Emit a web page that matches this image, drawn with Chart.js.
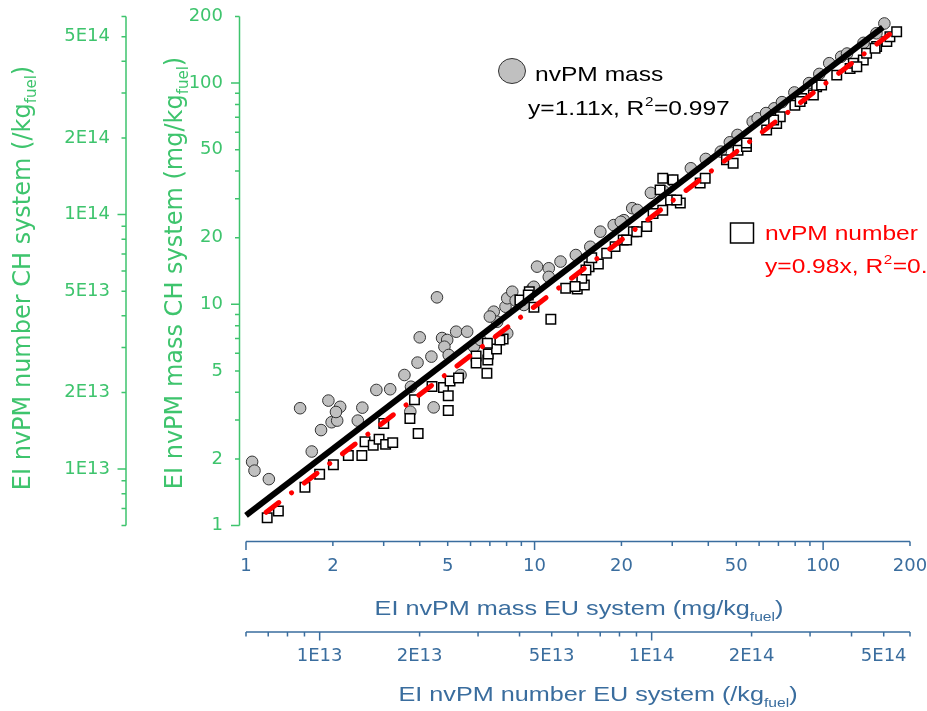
<!DOCTYPE html>
<html>
<head>
<meta charset="utf-8">
<script src="https://cdn.jsdelivr.net/npm/chart.js@4.4.1/dist/chart.umd.min.js"></script>
<style>
  html, body { margin: 0; padding: 0; background: #fff; }
  canvas { display: block; }
</style>
</head>
<body>
<canvas id="c" width="927" height="711"></canvas>
<script>
// nvPM mass, EU system (x) vs CH system (y), mg/kg_fuel
const massEU = [1.05, 1.07, 1.2, 1.54, 1.69, 1.82, 1.93, 1.98, 2.07, 2.12, 2.05, 2.44, 2.53, 2.83, 3.16,
  3.54, 3.73, 3.71, 3.93, 4.0, 4.39, 4.59, 4.47, 4.78, 4.98, 4.87, 5.04, 5.35, 5.84, 5.54, 6.16, 6.49,
  7.22, 7.42, 8.04, 7.93, 8.04, 8.37, 9.18, 10.2, 11.2, 11.2, 12.3, 9.82, 8.6, 7.0, 15.6, 16.9, 18.8,
  21.8, 22.7, 20.4, 34.8, 44.2, 50.5, 57.0, 59.3, 67.7, 79.5, 105, 115.5, 121, 163, 25.3, 30.1, 39.2,
  63.4, 89.4, 138, 153, 9.94, 19.9, 13.9, 28, 47.5, 72, 97];
const massCH = [1.94, 1.77, 1.62, 3.39, 2.16, 2.7, 3.67, 2.93, 2.98, 3.44, 3.26, 2.98, 3.41, 4.1, 4.13,
  4.79, 4.24, 3.27, 5.45, 7.09, 5.8, 10.75, 3.42, 7.04, 6.9, 6.43, 5.9, 7.52, 7.52, 4.79, 6.43, 6.9,
  9.26, 8.34, 7.39, 9.75, 10.65, 11.4, 9.93, 14.8, 14.55, 13.3, 15.6, 11.8, 10.4, 8.8, 18.2, 21.3, 22.8,
  27.2, 26.7, 24.0, 41.2, 49.0, 58.3, 66.9, 69.3, 76.9, 90.7, 123, 131.6, 136, 186, 31.9, 36.1, 45.4,
  73.2, 100, 152, 168, 12.0, 23.6, 16.7, 32.5, 54, 82, 110];

// nvPM number, EU system (x) vs CH system (y), /kg_fuel
const numberEU = [6.95e12, 7.51e12, 9.03e12, 1.00e13, 1.10e13, 1.22e13, 1.34e13, 1.37e13, 1.45e13, 1.51e13,
  1.58e13, 1.66e13, 1.56e13, 1.87e13, 1.98e13, 1.93e13, 2.18e13, 2.36e13, 2.44e13, 2.44e13, 2.47e13,
  2.62e13, 2.96e13, 2.96e13, 3.21e13, 3.22e13, 3.41e13, 3.19e13, 3.57e13, 3.20e13, 3.49e13, 4.01e13,
  4.28e13, 4.42e13, 4.97e13, 5.51e13, 5.97e13, 6.27e13, 6.16e13, 6.48e13, 6.91e13, 6.60e13, 7.32e13,
  7.76e13, 8.21e13, 8.81e13, 9.66e13, 9.02e13, 1.01e14, 1.08e14, 1.06e14, 1.08e14, 1.16e14, 1.14e14,
  1.22e14, 1.19e14, 1.40e14, 1.45e14, 1.68e14, 1.76e14, 1.82e14, 1.93e14, 2.22e14, 2.38e14, 2.44e14,
  2.33e14, 2.70e14, 2.83e14, 3.14e14, 3.25e14, 3.61e14, 3.96e14, 4.05e14, 4.34e14, 4.44e14, 4.76e14,
  5.11e14, 5.22e14, 5.47e14, 3.07e14, 2.80e14, 1.93e14, 4.15e14, 4.71e14, 4.25e13, 6.34e13, 5.88e13, 8.41e13];
const numberCH = [6.44e12, 6.84e12, 8.48e12, 9.53e12, 1.04e13, 1.13e13, 1.13e13, 1.28e13, 1.24e13, 1.31e13,
  1.25e13, 1.27e13, 1.51e13, 1.58e13, 1.38e13, 1.87e13, 2.11e13, 2.09e13, 1.94e13, 1.70e13, 2.22e13,
  2.28e13, 2.78e13, 2.61e13, 2.68e13, 2.83e13, 2.96e13, 2.38e13, 3.24e13, 3.12e13, 3.21e13, 4.62e13,
  4.97e13, 4.32e13, 3.88e13, 5.13e13, 5.10e13, 5.29e13, 5.62e13, 6.24e13, 6.39e13, 6.77e13, 7.04e13,
  7.48e13, 7.94e13, 8.56e13, 8.97e13, 8.56e13, 1.01e14, 1.04e14, 1.25e14, 1.39e14, 1.37e14, 1.14e14,
  1.11e14, 1.14e14, 1.33e14, 1.39e14, 1.64e14, 1.59e14, 1.79e14, 1.85e14, 2.15e14, 2.28e14, 2.42e14,
  2.35e14, 2.69e14, 2.86e14, 3.18e14, 3.23e14, 3.53e14, 3.75e14, 3.93e14, 4.05e14, 4.30e14, 4.57e14,
  4.78e14, 5.00e14, 5.23e14, 2.95e14, 2.78e14, 1.91e14, 3.81e14, 4.50e14, 4.83e13, 6.05e13, 5.21e13, 7.94e13];

// fit lines (end points)
const massFitX = [1, 161];
const massFitY = [1.11, 178.7];
const numberFitX = [6.9e12, 5.6e14];
const numberFitY = [6.76e12, 5.49e14];

// axes
const massTicks = [1, 2, 3, 4, 5, 6, 7, 8, 9, 10, 20, 30, 40, 50, 60, 70, 80, 90, 100, 200];
const massLabelValues = [1, 2, 5, 10, 20, 50, 100, 200];
const massLabelText = ['1', '2', '5', '10', '20', '50', '100', '200'];
const numberTicks = [6e12, 7e12, 8e12, 9e12, 1e13, 2e13, 3e13, 4e13, 5e13, 6e13, 7e13, 8e13, 9e13,
  1e14, 2e14, 3e14, 4e14, 5e14, 6e14];
const numberLabelValues = [1e13, 2e13, 5e13, 1e14, 2e14, 5e14];
const numberLabelText = ['1E13', '2E13', '5E13', '1E14', '2E14', '5E14'];

const FONT = '"DejaVu Sans"';
const ARIAL = '"Liberation Sans", Arial';
const GREEN = '#3ec46d';
const BLUE = '#3a6d9e';
const RED = '#ff0000';

function labeller(vals, texts) {
  return function (value) {
    for (let i = 0; i < vals.length; i++) {
      if (Math.abs(value / vals[i] - 1) < 1e-6) return texts[i];
    }
    return '';
  };
}

function isDecade(v) {
  const l = Math.log10(v);
  return Math.abs(l - Math.round(l)) < 1e-6;
}

function logAxis(pos, min, max, tickList, vals, texts, color, tickLen, pad, size, weight) {
  return {
    type: 'logarithmic', position: pos, min: min, max: max, weight: weight, bounds: 'data',
    grid: { display: false, drawTicks: true, tickLength: tickLen },
    border: { display: false },
    ticks: {
      autoSkip: false, maxRotation: 0, padding: pad, color: color,
      font: { family: FONT, size: 18 },
      callback: labeller(vals, texts)
    },
    afterBuildTicks: function (s) { s.ticks = tickList.map(v => ({ value: v })); },
    afterFit: function (s) {
      if (pos === 'left') {
        s.width = size;
        s.paddingTop = 0; s.paddingBottom = 0;
      } else {
        s.height = size;
        s.paddingLeft = 0; s.paddingRight = 0;
      }
    }
  };
}

function vAxis(ctx, sc, x, color) {
  ctx.strokeStyle = color;
  ctx.lineWidth = 1.5;
  ctx.beginPath();
  ctx.moveTo(x, sc.top);
  ctx.lineTo(x, sc.bottom);
  sc.ticks.forEach(t => {
    const y = sc.getPixelForValue(t.value);
    const l = isDecade(t.value) ? 8.5 : 4.5;
    ctx.moveTo(x, y);
    ctx.lineTo(x - l, y);
  });
  ctx.stroke();
}

function hAxis(ctx, sc, y, color) {
  ctx.strokeStyle = color;
  ctx.lineWidth = 1.5;
  ctx.beginPath();
  ctx.moveTo(sc.left, y);
  ctx.lineTo(sc.right, y);
  sc.ticks.forEach(t => {
    const x = sc.getPixelForValue(t.value);
    const l = isDecade(t.value) ? 8.5 : 4.5;
    ctx.moveTo(x, y);
    ctx.lineTo(x, y + l);
  });
  ctx.stroke();
}

// title with subscript, centred on (cx, baseline cy); sx = horizontal stretch
function subTitle(ctx, main, sub, tail, cx, cy, rot, color, size, family, sx) {
  const f = size + 'px ' + family, fs = Math.round(size * 0.63) + 'px ' + family;
  ctx.save();
  ctx.translate(cx, cy);
  ctx.rotate(rot);
  ctx.scale(sx, 1);
  ctx.fillStyle = color;
  ctx.textAlign = 'left';
  ctx.textBaseline = 'alphabetic';
  ctx.font = f;
  const w1 = ctx.measureText(main).width, w3 = ctx.measureText(tail).width;
  ctx.font = fs;
  const w2 = ctx.measureText(sub).width;
  let x = -(w1 + w2 + w3) / 2;
  ctx.font = f; ctx.fillText(main, x, 0); x += w1;
  ctx.font = fs; ctx.fillText(sub, x, 6); x += w2;
  ctx.font = f; ctx.fillText(tail, x, 0);
  ctx.restore();
}

// plain or "y=..x, R2=.." legend text, left aligned at (x, baseline y), stretched like the titles
function legendText(ctx, a, b, x, y, color) {
  ctx.save();
  ctx.translate(x, y);
  ctx.scale(1.17, 1);
  ctx.fillStyle = color;
  ctx.textAlign = 'left';
  ctx.textBaseline = 'alphabetic';
  ctx.font = '21px ' + ARIAL;
  ctx.fillText(a, 0, 0);
  if (b !== null) {
    let px = ctx.measureText(a).width;
    ctx.font = '13px ' + ARIAL;
    ctx.fillText('2', px + 0.5, -9.5);
    px += ctx.measureText('2').width + 1;
    ctx.font = '21px ' + ARIAL;
    ctx.fillText(b, px, 0);
  }
  ctx.restore();
}

const decorations = {
  id: 'decorations',
  afterDraw(chart) {
    const ctx = chart.ctx, a = chart.chartArea, s = chart.scales;
    ctx.save();
    vAxis(ctx, s.y, a.left - 6.5, GREEN);
    vAxis(ctx, s.y2, s.y2.right, GREEN);
    hAxis(ctx, s.x, a.bottom + 16, BLUE);
    hAxis(ctx, s.x2, s.x2.top + 14, BLUE);

    subTitle(ctx, 'EI nvPM mass EU system (mg/kg', 'fuel', ')', 579, 615, 0, BLUE, 21, ARIAL, 1.2);
    subTitle(ctx, 'EI nvPM number EU system (/kg', 'fuel', ')', 598, 701, 0, BLUE, 21, ARIAL, 1.2);
    subTitle(ctx, 'EI nvPM mass CH system (mg/kg', 'fuel', ')', 182, 273, -Math.PI / 2, GREEN, 24, FONT, 1);
    subTitle(ctx, 'EI nvPM number CH system (/kg', 'fuel', ')', 30, 278, -Math.PI / 2, GREEN, 24, FONT, 1);

    // legend: mass
    ctx.beginPath();
    ctx.ellipse(512, 71, 13.5, 12.5, 0, 0, Math.PI * 2);
    ctx.fillStyle = '#c0c0c0';
    ctx.fill();
    ctx.lineWidth = 1;
    ctx.strokeStyle = '#333';
    ctx.stroke();
    legendText(ctx, 'nvPM mass', null, 535, 81, '#000');
    legendText(ctx, 'y=1.11x, R', '=0.997', 528, 115, '#000');

    // legend: number
    ctx.fillStyle = '#fff';
    ctx.fillRect(730.5, 223, 23, 20);
    ctx.lineWidth = 1.5;
    ctx.strokeStyle = '#000';
    ctx.strokeRect(730.5, 223, 23, 20);
    legendText(ctx, 'nvPM number', null, 765, 240, RED);
    legendText(ctx, 'y=0.98x, R', '=0.', 765, 273, RED);
    ctx.restore();
  }
};

new Chart(document.getElementById('c'), {
  type: 'scatter',
  data: {
    datasets: [
      {
        label: 'nvPM mass',
        data: massEU.map((v, i) => ({ x: v, y: massCH[i] })),
        xAxisID: 'x', yAxisID: 'y',
        pointStyle: 'circle', pointRadius: 5.8,
        backgroundColor: '#c0c0c0', borderColor: '#333', borderWidth: 1,
        order: 3
      },
      {
        label: 'nvPM number',
        data: numberEU.map((v, i) => ({ x: v, y: numberCH[i] })),
        xAxisID: 'x2', yAxisID: 'y2',
        pointStyle: 'rect', pointRadius: 6.7,
        backgroundColor: '#fff', borderColor: '#000', borderWidth: 1.5,
        order: 2
      },
      {
        type: 'line',
        label: 'mass fit',
        data: massFitX.map((v, i) => ({ x: v, y: massFitY[i] })),
        xAxisID: 'x', yAxisID: 'y',
        borderColor: '#000', borderWidth: 6, pointRadius: 0, fill: false,
        order: 1
      },
      {
        type: 'line',
        label: 'number fit',
        data: numberFitX.map((v, i) => ({ x: v, y: numberFitY[i] })),
        xAxisID: 'x2', yAxisID: 'y2',
        borderColor: RED, borderWidth: 5, borderDash: [16, 16, 0.1, 16], borderCapStyle: 'round',
        pointRadius: 0, fill: false,
        order: 0
      }
    ]
  },
  options: {
    responsive: false,
    animation: false,
    events: [],
    clip: false,
    layout: { padding: { top: 16.5, right: 17, left: 0, bottom: 0 } },
    plugins: { legend: { display: false }, tooltip: { enabled: false } },
    scales: {
      x: logAxis('bottom', 1, 200, massTicks, massLabelValues, massLabelText, BLUE, 22, 8, 92.5, 0),
      x2: logAxis('bottom', 6e12, 6e14, numberTicks, numberLabelValues, numberLabelText, BLUE, 20, 8, 93, 1),
      y: logAxis('left', 1, 200, massTicks, massLabelValues, massLabelText, GREEN, 15, 8, 120, 0),
      y2: logAxis('left', 6e12, 6e14, numberTicks, numberLabelValues, numberLabelText, GREEN, 8, 8, 126, 1)
    }
  },
  plugins: [decorations]
});
</script>
</body>
</html>
